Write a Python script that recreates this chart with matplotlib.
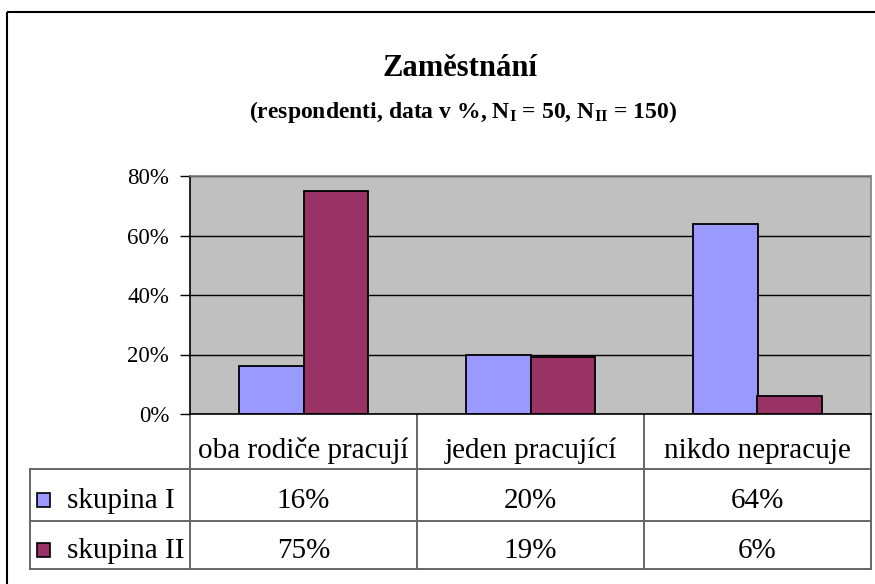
import matplotlib
matplotlib.use("Agg")
import matplotlib.pyplot as plt
from matplotlib.patches import Rectangle
from matplotlib.lines import Line2D
from matplotlib.transforms import blended_transform_factory
import numpy as np

plt.rcParams['font.family'] = ['Liberation Serif', 'DejaVu Serif']
plt.rcParams['mathtext.fontset'] = 'custom'
plt.rcParams['mathtext.rm'] = 'Liberation Serif:bold'
plt.rcParams['mathtext.it'] = 'Liberation Serif:bold:italic'
plt.rcParams['mathtext.bf'] = 'Liberation Serif:bold'

# ---- data ----
title = "Zaměstnání"
subtitle = r"(respondenti, data v %, $\mathrm{N}_\mathrm{I}$ = 50, $\mathrm{N}_\mathrm{II}$ = 150)"
categories = ["oba rodiče pracují", "jeden pracující", "nikdo nepracuje"]
series_names = ["skupina I", "skupina II"]
skupina_I = [16, 20, 64]
skupina_II = [75, 19, 6]
series_values = [skupina_I, skupina_II]
colors = ["#9999FF", "#993366"]
yticks = [0, 20, 40, 60, 80]
ytick_labels = ["0%", "20%", "40%", "60%", "80%"]

W, H = 875, 584
fig = plt.figure(figsize=(W / 100, H / 100), dpi=100)

# overlay axes in pixel coordinates
ov = fig.add_axes([0, 0, 1, 1])
ov.set_xlim(0, W)
ov.set_ylim(H, 0)
ov.axis("off")

# plot area
L, R, T, B = 190, 871, 176, 414
ax = fig.add_axes([L / W, (H - B) / H, (R - L) / W, (B - T) / H])
ax.set_facecolor("#C0C0C0")
x = np.arange(len(categories))
bw = 0.286
for k, (vals, col) in enumerate(zip(series_values, colors)):
    offs = (k - 0.5) * bw
    ax.bar(x + offs, vals, width=bw, color=col, edgecolor="black", linewidth=1.3, zorder=3)
ax.set_xlim(-0.5, len(categories) - 0.5)
ax.set_ylim(0, 80)
ax.set_yticks(yticks)
ax.set_yticklabels(ytick_labels, fontsize=16.5)
ax.set_xticks([])
ax.tick_params(axis="y", direction="out", length=7, width=1, pad=8, color="black")
ax.yaxis.grid(True, color="black", linewidth=1, zorder=1)
ax.set_axisbelow(True)
for s in ["left", "bottom"]:
    ax.spines[s].set_color("black")
    ax.spines[s].set_linewidth(1.2)
for s in ["top", "right"]:
    ax.spines[s].set_color("#808080")
    ax.spines[s].set_linewidth(1.2)
ax.spines["bottom"].set_zorder(5)

# titles
ov.text(460, 76, title, ha="center", va="baseline", fontsize=22, fontweight="bold")
ov.text(463, 118, subtitle, ha="center", va="baseline", fontsize=17, fontweight="bold")

# outer frame
ov.add_patch(Rectangle((7, 12), 880, 600, fill=False, edgecolor="black", linewidth=1.5, clip_on=False))

# data table
bt = blended_transform_factory(ax.transData, ov.transData)
row_y = [414, 469, 521, 569]
tcol = "#666666"
lw = 1.4
for b in np.arange(len(categories) + 1) - 0.5:
    ov.add_line(Line2D([b, b], [row_y[0], row_y[-1]], transform=bt, color=tcol, lw=lw))
ov.add_line(Line2D([30, 30], [row_y[1], row_y[-1]], color=tcol, lw=lw))
for yy in row_y[1:]:
    ov.add_line(Line2D([30, R], [yy, yy], color=tcol, lw=lw))
fs = 21
for i, c in enumerate(categories):
    ov.text(i, 458, c, transform=bt, ha="center", va="baseline", fontsize=fs)
baselines = [508, 558]
for k, (name, vals, col) in enumerate(zip(series_names, series_values, colors)):
    yb = baselines[k]
    ov.add_patch(Rectangle((37, yb - 15), 13, 14, facecolor=col, edgecolor="black", lw=1.2))
    ov.text(67, yb, name, ha="left", va="baseline", fontsize=fs)
    for i, v in enumerate(vals):
        ov.text(i, yb, f"{v}%", transform=bt, ha="center", va="baseline", fontsize=fs)

fig.savefig("out.png", dpi=100)
